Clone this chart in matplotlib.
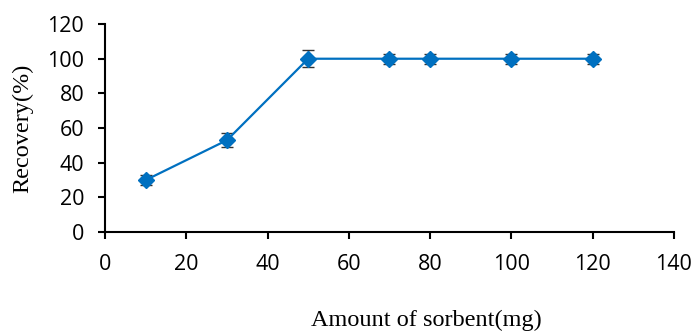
import numpy as np
import matplotlib
matplotlib.use("Agg")
import matplotlib.pyplot as plt

amount = [10, 30, 50, 70, 80, 100, 120]
recovery = [30, 53, 100, 100, 100, 100, 100]
err = [3, 4, 5, 3, 3, 3, 3]
xticks = [0, 20, 40, 60, 80, 100, 120, 140]
yticks = [0, 20, 40, 60, 80, 100, 120]

fig = plt.figure(figsize=(6.94, 3.34), dpi=100)
ax = fig.add_axes([0.1513, 0.305, 0.8197, 0.623])

ax.errorbar(amount, recovery, yerr=err, color="#0070C0", lw=1.6,
            marker="D", ms=8, mec="#0070C0", mfc="#0070C0",
            ecolor="#333333", elinewidth=1, capsize=4, capthick=1, zorder=3)

ax.set_xlim(0, 140)
ax.set_ylim(0, 120)
ax.set_xticks(xticks)
ax.set_yticks(yticks)
for s in ["top", "right"]:
    ax.spines[s].set_visible(False)
for s in ["left", "bottom"]:
    ax.spines[s].set_linewidth(1.5)
ax.tick_params(direction="out", length=5, width=1.5, labelsize=15.5)
ax.tick_params(axis="x", pad=11)
ax.tick_params(axis="y", pad=10)
for lab in ax.get_xticklabels() + ax.get_yticklabels():
    lab.set_family("Open Sans")

fig.text(0.615, 0.042, "Amount of sorbent(mg)", fontsize=17.5,
         family="Liberation Serif", ha="center", va="center")
fig.text(0.033, 0.617, "Recovery(%)", fontsize=17.5, rotation=90,
         family="Liberation Serif", ha="center", va="center")

fig.savefig("out.png", dpi=100)
